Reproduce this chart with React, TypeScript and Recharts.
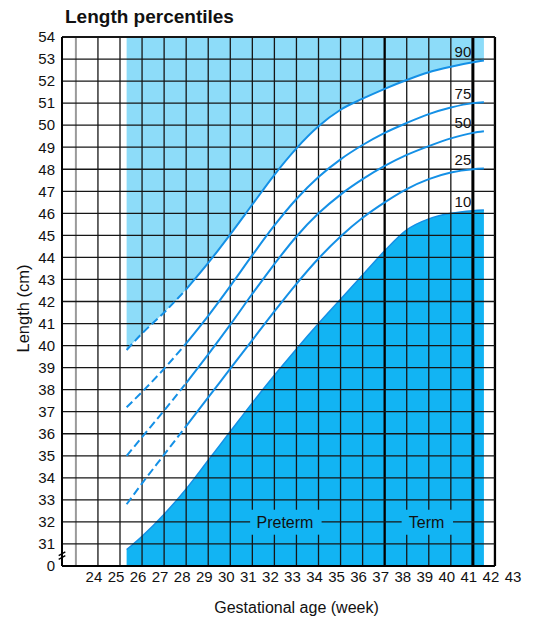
import { ComposedChart, Area, Line, XAxis, YAxis, ReferenceLine, ReferenceDot, LabelList } from 'recharts';

const FONT = '"Liberation Sans", Arial, Helvetica, sans-serif';

// gestational week of every reading (curves start at 25.3 and stop at 41.5)
const weeks = [25.3, 26, 27, 28, 29, 30, 31, 32, 33, 34, 35, 36, 37, 38, 39, 40, 41, 41.5];
const p90 = [39.8, 40.55, 41.5, 42.55, 43.75, 45.05, 46.4, 47.75, 48.95, 49.95, 50.7, 51.2, 51.65, 52.05, 52.4, 52.65, 52.85, 52.93];
const p75 = [37.2, 37.9, 38.95, 40.1, 41.35, 42.7, 44.1, 45.45, 46.65, 47.65, 48.45, 49.1, 49.65, 50.1, 50.5, 50.8, 51.0, 51.04];
const p50 = [35.0, 35.85, 37.05, 38.3, 39.6, 40.95, 42.35, 43.7, 44.95, 46.0, 46.85, 47.55, 48.15, 48.65, 49.05, 49.4, 49.65, 49.72];
const p25 = [32.8, 33.75, 35.05, 36.35, 37.65, 38.95, 40.25, 41.55, 42.8, 43.95, 44.95, 45.8, 46.5, 47.1, 47.55, 47.85, 48.0, 48.03];
const p10 = [30.74, 31.35, 32.35, 33.5, 34.8, 36.1, 37.4, 38.65, 39.85, 41.0, 42.1, 43.2, 44.3, 45.25, 45.75, 46.0, 46.12, 46.15];

// axis ticks; the 30 slot is shown as "0" (broken axis)
const xTicks = [23, 24, 25, 26, 27, 28, 29, 30, 31, 32, 33, 34, 35, 36, 37, 38, 39, 40, 41, 42, 43];
const yTicks = [30, 31, 32, 33, 34, 35, 36, 37, 38, 39, 40, 41, 42, 43, 44, 45, 46, 47, 48, 49, 50, 51, 52, 53, 54];
const gridWeeks = [23, 24, 25, 26, 27, 28, 29, 30, 31, 32, 33, 34, 35, 36, 37, 38, 39, 40, 41, 42];
const gridCm = [31, 32, 33, 34, 35, 36, 37, 38, 39, 40, 41, 42, 43, 44, 45, 46, 47, 48, 49, 50, 51, 52, 53, 54];

const X_MIN = 22.37;
const X_END = 42; // frame right edge, the "43" tick sits outside it
const DASH_UNTIL = 28;

const LIGHT = '#8ddcf9';
const DARK = '#12b4f3';
const CURVE = '#1490e6';
const INK = '#111';

// Preterm / Term captions on the 32 cm line
const BAND_LOW = 31.42;
const BAND_HIGH = 32.55;
const bandWeeks = [31, 32, 33, 34, 38, 39, 40];
const captionGaps = [[30.9, 34.14], [37.77, 40.1]];

const rows = weeks.map((w, i) => ({
  week: w,
  p90: p90[i],
  p10: p10[i],
  p90d: w <= DASH_UNTIL ? p90[i] : null,
  p90s: w >= DASH_UNTIL ? p90[i] : null,
  p75d: w <= DASH_UNTIL ? p75[i] : null,
  p75s: w >= DASH_UNTIL ? p75[i] : null,
  p50d: w <= DASH_UNTIL ? p50[i] : null,
  p50s: w >= DASH_UNTIL ? p50[i] : null,
  p25d: w <= DASH_UNTIL ? p25[i] : null,
  p25s: w >= DASH_UNTIL ? p25[i] : null,
}));

function endLabel(text: string) {
  return (props: any) => {
    if (props.index !== weeks.length - 1) return null;
    const vb = props.viewBox || {};
    const x = vb.x ?? props.x;
    const y = vb.y ?? props.y;
    return (
      <text x={x - 21} y={y - 9} textAnchor="middle" dominantBaseline="central"
        fontSize={15} fill={INK} fontFamily={FONT}>
        {text}
      </text>
    );
  };
}

function YTitle(props: any) {
  const vb = props.viewBox || {};
  const cx = vb.x + 1;
  const cy = vb.y + vb.height / 2 + 7;
  return (
    <text x={cx} y={cy} transform={`rotate(-90, ${cx}, ${cy})`} textAnchor="middle"
      dominantBaseline="central" fontSize={16.5} fill={INK} fontFamily={FONT}>
      Length (cm)
    </text>
  );
}

function vStyle(w: number) {
  if (w === 23) return { stroke: '#9a9a9a', strokeWidth: 2 };
  if (w === 41) return { stroke: '#000', strokeWidth: 3 };
  if (w === 37 || w === 42) return { stroke: '#000', strokeWidth: 2.3 };
  return { stroke: '#161616', strokeWidth: 1.3 };
}

export default function App() {
  const vLines: any[] = [];
  gridWeeks.forEach((w) => {
    const st = vStyle(w);
    if (bandWeeks.includes(w)) {
      vLines.push(<ReferenceLine key={`v${w}a`} segment={[{ x: w, y: 30 }, { x: w, y: BAND_LOW }]} {...st} />);
      vLines.push(<ReferenceLine key={`v${w}b`} segment={[{ x: w, y: BAND_HIGH }, { x: w, y: 54 }]} {...st} />);
    } else {
      vLines.push(<ReferenceLine key={`v${w}`} segment={[{ x: w, y: 30 }, { x: w, y: 54 }]} {...st} />);
    }
  });

  const hLines: any[] = [];
  gridCm.forEach((c) => {
    const sw = c === 54 ? 1.8 : 1.3;
    if (c === 32) {
      const cuts = [X_MIN, ...captionGaps.flat(), X_END];
      for (let i = 0; i < cuts.length; i += 2) {
        hLines.push(<ReferenceLine key={`h${c}-${i}`} segment={[{ x: cuts[i], y: c }, { x: cuts[i + 1], y: c }]} stroke="#161616" strokeWidth={sw} />);
      }
    } else {
      hLines.push(<ReferenceLine key={`h${c}`} segment={[{ x: X_MIN, y: c }, { x: X_END, y: c }]} stroke="#161616" strokeWidth={sw} />);
    }
  });

  return (
    <div style={{ position: 'relative', width: 533, height: 613, fontFamily: FONT }}>
      <div style={{ position: 'absolute', left: 57, top: -1, fontSize: 19, lineHeight: '19px', fontWeight: 'bold', color: INK }}>
        Length percentiles
      </div>
      <ComposedChart width={533} height={613} data={rows} margin={{ top: 29, right: 24, bottom: 25, left: 14 }}>
        <XAxis
          dataKey="week"
          type="number"
          domain={[X_MIN, 43]}
          ticks={xTicks}
          interval={0}
          allowDataOverflow
          axisLine={false}
          tickLine={false}
          tickSize={3}
          tickMargin={2}
          height={30}
          tick={{ fontSize: 15, fill: INK, fontFamily: FONT, dx: -4 }}
          tickFormatter={(v: number) => (v === 23 ? '' : String(v))}
          label={{ value: 'Gestational age (week)', position: 'bottom', offset: 6, dx: 7, fontSize: 16, fill: INK, fontFamily: FONT }}
        />
        <YAxis
          type="number"
          domain={[30, 54]}
          ticks={yTicks}
          interval={0}
          allowDataOverflow
          width={40}
          axisLine={{ stroke: '#000', strokeWidth: 2 }}
          tickLine={false}
          tickSize={6}
          tickMargin={1}
          tick={{ fontSize: 15, fill: INK, fontFamily: FONT }}
          tickFormatter={(v: number) => (v === 30 ? '0' : String(v))}
          label={{ content: YTitle }}
        />

        {/* shaded bands: above the 90th and below the 10th percentile */}
        <Area type="monotone" dataKey="p90" baseValue={54} fill={LIGHT} fillOpacity={1} stroke="none" isAnimationActive={false} />
        <Area type="monotone" dataKey="p10" baseValue={30} fill={DARK} fillOpacity={1} stroke={CURVE} strokeWidth={1.5} isAnimationActive={false}>
          <LabelList dataKey="p10" content={endLabel('10')} />
        </Area>

        {vLines}
        {hLines}
        <ReferenceLine segment={[{ x: X_MIN, y: 30 }, { x: X_END, y: 30 }]} stroke="#000" strokeWidth={2} />
        <ReferenceLine ifOverflow="visible" segment={[{ x: 22.22, y: 30.47 }, { x: 22.52, y: 30.64 }]} stroke="#000" strokeWidth={1.3} />
        <ReferenceLine ifOverflow="visible" segment={[{ x: 22.22, y: 30.3 }, { x: 22.52, y: 30.47 }]} stroke="#000" strokeWidth={1.3} />

        {/* percentile curves, dashed for the early weeks */}
        <Line type="monotone" dataKey="p90d" stroke={CURVE} strokeWidth={2} strokeDasharray="8 4" dot={false} activeDot={false} isAnimationActive={false} />
        <Line type="monotone" dataKey="p90s" stroke={CURVE} strokeWidth={2} dot={false} activeDot={false} isAnimationActive={false}>
          <LabelList dataKey="p90s" content={endLabel('90')} />
        </Line>
        <Line type="monotone" dataKey="p75d" stroke={CURVE} strokeWidth={2} strokeDasharray="8 4" dot={false} activeDot={false} isAnimationActive={false} />
        <Line type="monotone" dataKey="p75s" stroke={CURVE} strokeWidth={2} dot={false} activeDot={false} isAnimationActive={false}>
          <LabelList dataKey="p75s" content={endLabel('75')} />
        </Line>
        <Line type="monotone" dataKey="p50d" stroke={CURVE} strokeWidth={2} strokeDasharray="8 4" dot={false} activeDot={false} isAnimationActive={false} />
        <Line type="monotone" dataKey="p50s" stroke={CURVE} strokeWidth={2} dot={false} activeDot={false} isAnimationActive={false}>
          <LabelList dataKey="p50s" content={endLabel('50')} />
        </Line>
        <Line type="monotone" dataKey="p25d" stroke={CURVE} strokeWidth={2} strokeDasharray="8 4" dot={false} activeDot={false} isAnimationActive={false} />
        <Line type="monotone" dataKey="p25s" stroke={CURVE} strokeWidth={2} dot={false} activeDot={false} isAnimationActive={false}>
          <LabelList dataKey="p25s" content={endLabel('25')} />
        </Line>

        <ReferenceDot x={32.48} y={32} r={0} fill="none" stroke="none"
          label={{ value: 'Preterm', position: 'center', fontSize: 16, fill: INK, fontFamily: FONT }} />
        <ReferenceDot x={38.9} y={32} r={0} fill="none" stroke="none"
          label={{ value: 'Term', position: 'center', fontSize: 16, fill: INK, fontFamily: FONT }} />
      </ComposedChart>
    </div>
  );
}
